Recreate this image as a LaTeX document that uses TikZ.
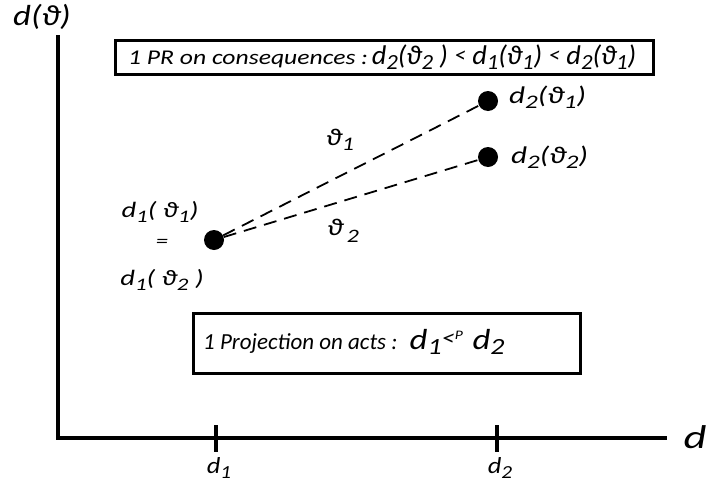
\documentclass[tikz,border=0pt]{standalone}
\usepackage{fontspec}
\usepackage{graphicx}
\setmainfont{Carlito}
\newcommand{\sbs}[1]{\raisebox{-0.4ex}{\fontsize{0.8em}{1em}\selectfont #1}}
\newcommand{\vth}{\char"03D1}
\newcommand{\xs}[2]{\scalebox{#1}[1]{#2}}
\newcommand{\fs}[1]{\fontsize{#1}{#1}\selectfont}
\begin{document}
\begin{tikzpicture}[x=1pt,y=-1pt,
  ax/.style={line width=3.2pt},
  frame/.style={draw,line width=3pt,minimum height=34pt,inner sep=0pt},
  dot/.style={circle,fill=black,minimum size=20pt,inner sep=0pt},
  lbl/.style={font=\fs{22}\itshape,inner sep=0pt},
  dashline/.style={line width=1.8pt,dash pattern=on 13pt off 8pt}]
\useasboundingbox (0,0) rectangle (709,490);
% axes
\coordinate (O) at (58,438);
\coordinate (Ytop) at (58,35);
\coordinate (Xend) at (667,438);
\draw[ax] (Ytop) -- (O) -- (Xend);
\coordinate (t1a) at (216,425); \coordinate (t1b) at (216,452);
\coordinate (t2a) at (497,425); \coordinate (t2b) at (497,452);
\draw[ax] (t1a) -- (t1b);
\draw[ax] (t2a) -- (t2b);
\node[lbl] (dx) at (695,437) {\xs{1.35}{\fs{33}d}};
\node[lbl] (dy) at (42,17) {\xs{1.2}{\fs{29}d(\vth)}};
\node[lbl] (l1) at (219,468) {\xs{1.15}{\fs{23}d\sbs{1}}};
\node[lbl] (l2) at (500,468) {\xs{1.15}{\fs{23}d\sbs{2}}};
% boxes
\node[frame,minimum width=538pt] (top) at (384,57) {};
\node[lbl,anchor=west] (toptext) at (128,57) {\xs{1.22}{\fs{21}1 PR on consequences :}\,\xs{1.05}{\fs{27}d\sbs{2}(\vth\sbs{2} ) \raisebox{0.1ex}{\fs{22}<} d\sbs{1}(\vth\sbs{1}) \raisebox{0.1ex}{\fs{22}<} d\sbs{2}(\vth\sbs{1})}};
\node[frame,minimum width=387pt,minimum height=60pt] (bot) at (386.5,343) {};
\node[lbl,anchor=west] (bottext) at (203,342) {\fs{23}1 Projection on acts : \ \xs{1.2}{\fs{29}d\sbs{1}\raisebox{0.3ex}{\fs{22}<\raisebox{0.5ex}{\fs{13}P}}\;d\sbs{2}}};
% dots
\node[dot] (a) at (214,240) {};
\node[dot] (b1) at (488,101) {};
\node[dot] (b2) at (488,157) {};
\draw[dashline] (a) -- (b1);
\draw[dashline] (a) -- (b2);
% labels
\node[lbl] (th1) at (340,140) {\xs{1.25}{\fs{24}\vth\sbs{1}}};
\node[lbl] (th2) at (343,231) {\xs{1.25}{\fs{24}\vth\raisebox{-0.6ex}{\fs{19}\,2}}};
\node[lbl,anchor=west] (lb1) at (509,97) {\xs{1.3}{\fs{24}d\sbs{2}(\vth\sbs{1})}};
\node[lbl,anchor=west] (lb2) at (511,157) {\xs{1.3}{\fs{24}d\sbs{2}(\vth\sbs{2})}};
\node[lbl] (la1) at (160,212) {\xs{1.3}{d\sbs{1}( \vth\sbs{1})}};
\node[lbl] (eq) at (162,243) {\xs{1.3}{\fs{19}=}};
\node[lbl] (la2) at (162,280) {\xs{1.3}{d\sbs{1}( \vth\sbs{2} )}};
\end{tikzpicture}
\end{document}
